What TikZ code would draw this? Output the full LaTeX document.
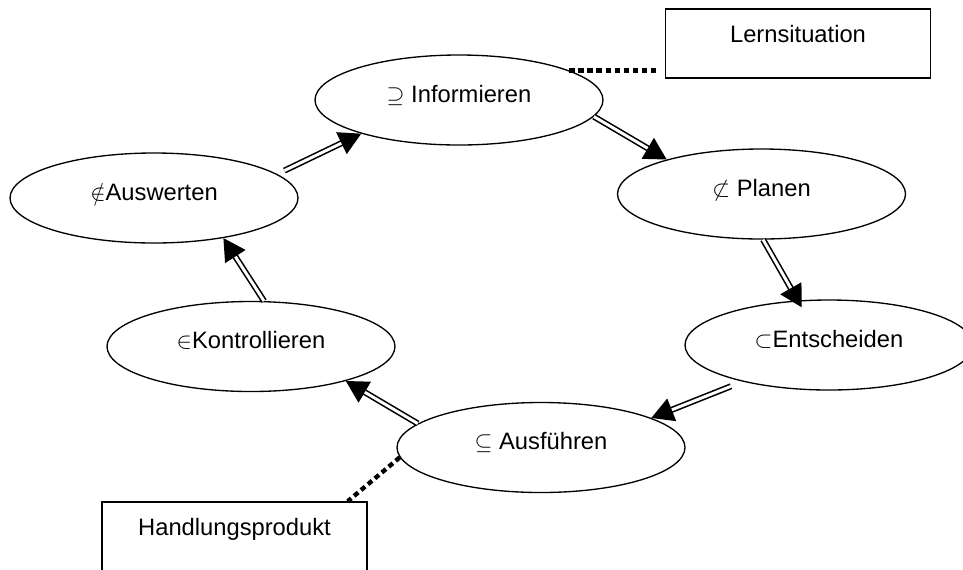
\documentclass[tikz,border=0pt]{standalone}
\usepackage{fontspec}
\setmainfont{Liberation Sans}
\usetikzlibrary{arrows.meta,shapes.geometric}

\begin{document}
\begin{tikzpicture}[x=0.75pt,y=0.75pt,yscale=-1,xscale=1,
    phase/.style={draw,ellipse,line width=1pt,minimum width=216pt,minimum height=67.5pt,
      inner sep=0pt,text height=13pt,text depth=10pt,font=\fontsize{17.8}{21}\selectfont},
    notebox/.style={draw,rectangle,line width=1pt,minimum width=198.75pt,inner sep=0pt,
      text height=25.1pt,text depth=26.6pt,font=\fontsize{17.8}{21}\selectfont},
    flow/.style={double,line width=1.2pt,double distance=2.2pt,-{Triangle[length=16.5pt,width=18pt]}},
    link/.style={line width=3.3pt,dash pattern=on 4pt off 2.8pt}]
  \useasboundingbox (0,0) rectangle (963,569);

  % phases of the cycle
  \node[phase] (info) at (459,100) {$\supseteq$ Informieren};
  \node[phase] (plan) at (761.5,194) {$\not\subset$ Planen};
  \node[phase] (ents) at (829,345) {$\subset$Entscheiden};
  \node[phase] (ausf) at (541,447.5) {$\subseteq$ Ausführen};
  \node[phase] (kontr) at (251,346.5) {$\in$Kontrollieren};
  \node[phase] (ausw) at (154,198) {$\notin$Auswerten};

  % text boxes
  \node[notebox] (lern) at (798,43.5) {Lernsituation};
  \node[notebox] (handl) at (234.5,536.5) {Handlungsprodukt};

  % arrows
  \draw[flow,shorten <=6pt] (ausw.11) -- (info.199);
  \draw[flow] (info.353) -- (plan.160);
  \draw[flow,shorten >=-6pt] (plan.272) -- (ents.125);
  \draw[flow,shorten <=9.5pt] (ents.203) -- (ausf.15);
  \draw[flow] (ausf.169) -- (kontr.340);
  \draw[flow] (kontr.74) -- (ausw.330);

  % dotted links
  \draw[link,shorten >=5pt] (info.15) -- (info.15 -| lern.west);
  \draw[link] (ausf.184) -- ([xshift=-15pt]handl.north east);
\end{tikzpicture}
\end{document}
